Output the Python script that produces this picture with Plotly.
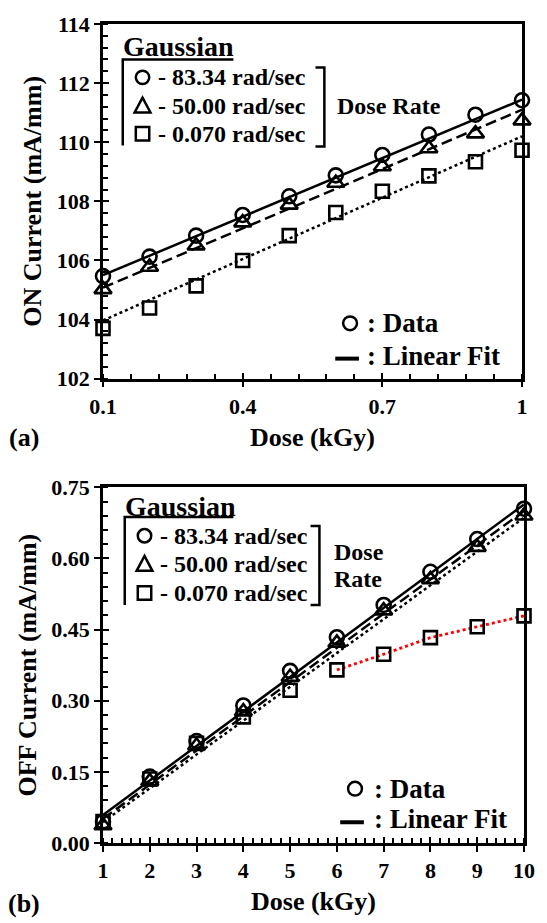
import plotly.graph_objects as go

# ---------------- data ----------------
dose_a = [0.1, 0.2, 0.3, 0.4, 0.5, 0.6, 0.7, 0.8, 0.9, 1.0]
on_8334 = [105.47, 106.13, 106.84, 107.54, 108.17, 108.88, 109.57, 110.26, 110.93, 111.42]
on_5000 = [105.02, 105.78, 106.50, 107.28, 107.88, 108.62, 109.18, 109.79, 110.29, 110.73]
on_0070 = [103.70, 104.39, 105.14, 106.00, 106.84, 107.62, 108.34, 108.86, 109.34, 109.73]
fit_x_a = [0.1, 1.0]
on_fit_8334 = [105.50, 111.44]
on_fit_5000 = [105.08, 111.10]
on_fit_0070 = [103.97, 110.20]

dose_b = [1, 2, 3, 4, 5, 6, 7, 8, 9, 10]
off_8334 = [0.045, 0.140, 0.215, 0.290, 0.363, 0.434, 0.502, 0.572, 0.641, 0.705]
off_5000 = [0.037, 0.130, 0.205, 0.277, 0.350, 0.422, 0.490, 0.556, 0.624, 0.690]
off_0070 = [0.045, 0.135, 0.210, 0.266, 0.322, 0.365, 0.398, 0.433, 0.456, 0.479]
fit_x_b = [1, 10]
off_fit_8334 = [0.059, 0.714]
off_fit_5000 = [0.051, 0.700]
off_fit_0070 = [0.044, 0.686]
red_start = 5  # index where the red dotted segment starts (dose 6)

xticks_a = [0.1, 0.4, 0.7, 1.0]
xticklabels_a = ["0.1", "0.4", "0.7", "1"]

FONT = "Times New Roman, Liberation Serif, Times, serif"
W, H = 547, 923
ML, MR, MT, MB = 103, 18, 14, 80
PW, PH = W - ML - MR, H - MT - MB


def P(px, py):
    return (px - ML) / PW, (H - MB - py) / PH


fig = go.Figure()

mk = dict(color="black", size=14, line=dict(color="black", width=2.6))
DASH = "11px,5px"
DOT = "3px,3px"


def add_panel(xs, ys_list, fx, fits, xa, ya):
    symbols = ["circle-open", "triangle-up-open", "square-open"]
    dashes = ["solid", DASH, DOT]
    for f, d in zip(fits, dashes):
        fig.add_trace(go.Scatter(x=fx, y=f, mode="lines", xaxis=xa, yaxis=ya,
                                 line=dict(color="black", width=2.5, dash=d),
                                 showlegend=False, cliponaxis=False))
    for ys, s in zip(ys_list, symbols):
        m = dict(mk)
        m["symbol"] = s
        if s.startswith("triangle"):
            m["size"] = 15
        if s.startswith("square"):
            m["size"] = 13
        fig.add_trace(go.Scatter(x=xs, y=ys, mode="markers", xaxis=xa, yaxis=ya,
                                 marker=m, showlegend=False, cliponaxis=False))


add_panel(dose_a, [on_8334, on_5000, on_0070], fit_x_a,
          [on_fit_8334, on_fit_5000, on_fit_0070], "x", "y")
# red dotted segment in panel b
fig.add_trace(go.Scatter(x=dose_b[red_start:], y=off_0070[red_start:], mode="lines",
                         xaxis="x2", yaxis="y2",
                         line=dict(color="red", width=2.8, dash=DOT),
                         showlegend=False, cliponaxis=False))
add_panel(dose_b, [off_8334, off_5000, off_0070], fit_x_b,
          [off_fit_8334, off_fit_5000, off_fit_0070], "x2", "y2")

# empty traces so the inner-tick overlay axes get drawn
fig.add_trace(go.Scatter(x=[], y=[], xaxis="x3", yaxis="y3", showlegend=False, hoverinfo="skip"))
fig.add_trace(go.Scatter(x=[], y=[], xaxis="x4", yaxis="y4", showlegend=False, hoverinfo="skip"))

tickfont = dict(family=FONT, size=22, color="black", weight="bold")
titlefont = dict(family=FONT, size=26, color="black", weight="bold")
axcommon = dict(showline=True, linewidth=2.5, linecolor="black", mirror=True,
                ticks="outside", ticklen=6, tickwidth=2.2, tickcolor="black",
                showgrid=False, zeroline=False, tickfont=tickfont)
inner = dict(showline=False, ticks="inside", ticklen=6, tickwidth=2.2, tickcolor="black",
             showticklabels=False, showgrid=False, zeroline=False)
mnr = dict(ticks="inside", ticklen=5, tickwidth=1.8, tickcolor="black")

top_dom = [(H - MB - 373) / PH, 1.0]
bot_dom = [0.0, (H - MB - 483) / PH]
xdom_a = [0, (527 - ML) / PW]

fig.update_layout(
    width=W, height=H,
    margin=dict(l=ML, r=MR, t=MT, b=MB),
    paper_bgcolor="white", plot_bgcolor="white",
    font=dict(family=FONT, color="black"),
    xaxis=dict(axcommon, range=[0.1, 1.0], domain=xdom_a, anchor="y",
               tickvals=xticks_a, ticktext=xticklabels_a,
               minor=dict(mnr, tick0=0.1, dtick=0.06),
               title=dict(text="Dose (kGy)", font=titlefont, standoff=10)),
    yaxis=dict(axcommon, range=[102, 114], domain=top_dom, anchor="x", dtick=2,
               minor=dict(mnr, dtick=0.4),
               title=dict(text="ON Current (mA/mm)", font=titlefont, standoff=8)),
    xaxis2=dict(axcommon, range=[1, 10], domain=[0, 1], anchor="y2", dtick=1,
                minor=dict(mnr, dtick=0.2),
                title=dict(text="Dose (kGy)", font=titlefont, standoff=10)),
    yaxis2=dict(axcommon, range=[0, 0.75], domain=bot_dom, anchor="x2", dtick=0.15,
                tickformat=".2f",
                minor=dict(mnr, dtick=0.03),
                title=dict(text="OFF Current (mA/mm)", font=titlefont, standoff=8)),
    xaxis3=dict(inner, range=[0.1, 1.0], domain=xdom_a, anchor="y3", overlaying="x",
                tickvals=xticks_a),
    yaxis3=dict(inner, range=[102, 114], domain=top_dom, anchor="x3", overlaying="y", dtick=2),
    xaxis4=dict(inner, range=[1, 10], domain=[0, 1], anchor="y4", overlaying="x2", dtick=1),
    yaxis4=dict(inner, range=[0, 0.75], domain=bot_dom, anchor="x4", overlaying="y2", dtick=0.15),
)

shapes = []
annots = []
LW = 2.5


def line(x0, y0, x1, y1, w=LW):
    a, b = P(x0, y0)
    c, d = P(x1, y1)
    shapes.append(dict(type="line", xref="paper", yref="paper", x0=a, y0=b, x1=c, y1=d,
                       line=dict(color="black", width=w)))


def path(pts, closed=False, w=LW):
    s = ""
    for i, (x, y) in enumerate(pts):
        a, b = P(x, y)
        s += ("M" if i == 0 else "L") + f"{a:.5f},{b:.5f} "
    if closed:
        s += "Z"
    shapes.append(dict(type="path", xref="paper", yref="paper", path=s,
                       line=dict(color="black", width=w), fillcolor="rgba(0,0,0,0)"))


def circ(cx, cy, r=6.8):
    a, b = P(cx - r, cy + r)
    c, d = P(cx + r, cy - r)
    shapes.append(dict(type="circle", xref="paper", yref="paper", x0=a, y0=b, x1=c, y1=d,
                       line=dict(color="black", width=2.5)))


def tri(cx, cy):
    path([(cx, cy - 8.5), (cx - 8, cy + 6.5), (cx + 8, cy + 6.5)], closed=True, w=2.5)


def sq(cx, cy, h=6.8):
    path([(cx - h, cy - h), (cx + h, cy - h), (cx + h, cy + h), (cx - h, cy + h)], closed=True, w=2.5)


def text(t, x, y, size, anchor="left"):
    a, b = P(x, y)
    annots.append(dict(text=f"<b>{t}</b>", x=a, y=b, xref="paper", yref="paper",
                       xanchor=anchor, yanchor="middle", showarrow=False,
                       font=dict(family=FONT, size=size, color="black")))


def legend_block(gx, gy, ux1, uy, vy, ys, bx, by0, by1, rate_lines, rate_x, rate_ys,
                 dcx, dcy, ddy, dtx):
    text("Gaussian", gx - 2, gy, 28)
    path([(ux1, uy), (gx, uy), (gx, vy)])
    circ(gx + 20, ys[0])
    tri(gx + 20, ys[1])
    sq(gx + 20, ys[2])
    labels = ["- 83.34 rad/sec", "- 50.00 rad/sec", "- 0.070 rad/sec"]
    for lab, yy in zip(labels, ys):
        text(lab, gx + 34, yy, 24)
    path([(bx - 9, by0), (bx, by0), (bx, by1), (bx - 9, by1)])
    for rl, ry in zip(rate_lines, rate_ys):
        text(rl, rate_x, ry, 24)
    # data / fit legend
    circ(dcx, dcy, 7)
    text(": Data", dtx, dcy, 27)
    line(dcx - 15, ddy, dcx + 9, ddy, w=4)
    text(": Linear Fit", dtx, ddy - 3, 27)


legend_block(123, 37, 235, 50, 137, [68, 97, 125], 327, 58, 138,
             ["Dose Rate"], 338, [97], 353, 317, 352.7, 368)
legend_block(125, 502, 235, 513, 602, [532, 561, 590], 322, 522, 602,
             ["Dose", "Rate"], 335, [548, 576], 358, 788, 822, 375)

text("(a)", 23, 433, 26, anchor="center")
text("(b)", 23, 904, 26, anchor="center")

fig.update_layout(shapes=shapes, annotations=annots)
fig.write_html("out.html")
